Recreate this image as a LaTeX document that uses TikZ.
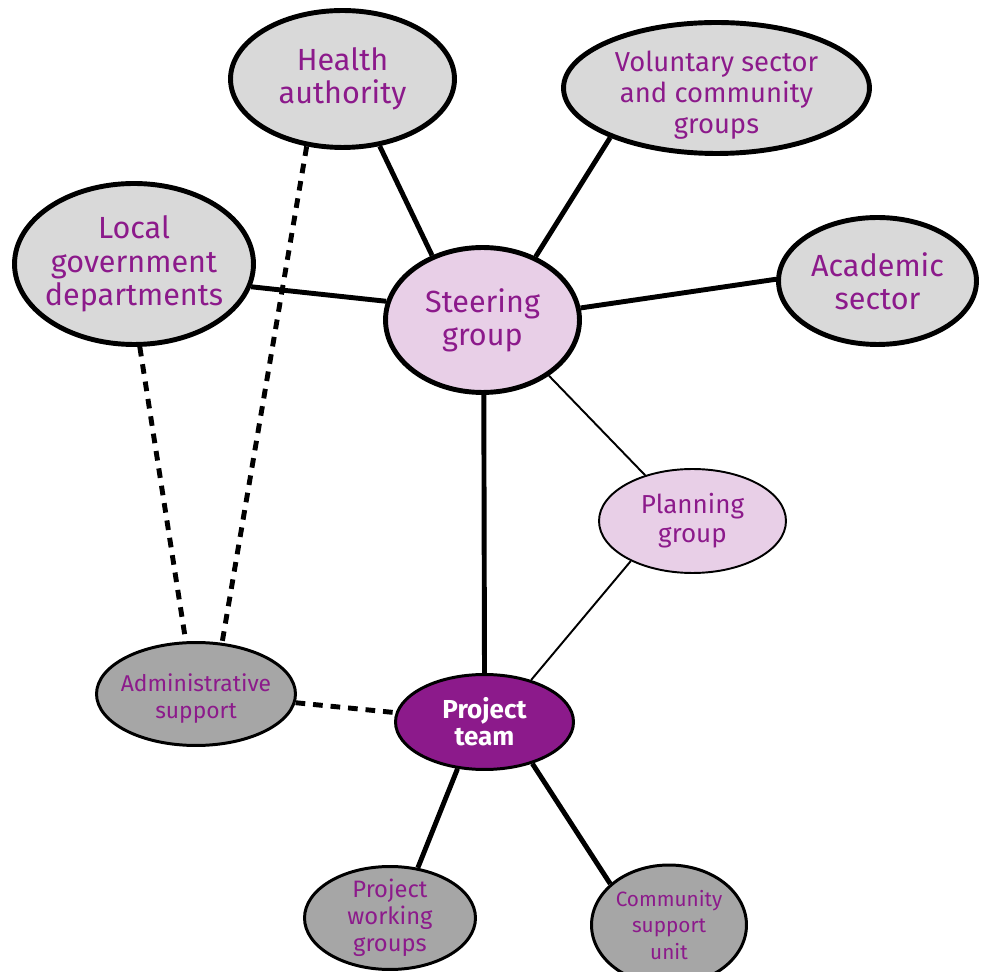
\documentclass[tikz,border=0pt]{standalone}
\usepackage{fontspec}
\setmainfont{Fira Sans}
\definecolor{plum}{HTML}{8C1A8B}
\definecolor{lightgrey}{HTML}{D9D9D9}
\definecolor{midgrey}{HTML}{A6A6A6}
\definecolor{lilac}{HTML}{E8CFE7}
\usetikzlibrary{shapes.geometric}
\begin{document}
\begin{tikzpicture}[x=0.02cm,y=-0.02cm,
  bigbox/.style={ellipse,draw=black,line width=2.8pt,fill=lightgrey,text=plum,
    inner sep=-4pt,align=center,font=\fontsize{17.4}{18.9}\selectfont},
  smallbox/.style={ellipse,draw=black,line width=1.7pt,fill=midgrey,text=plum,
    inner sep=-4pt,align=center,font=\fontsize{13}{15.3}\selectfont},
  link/.style={line width=2.8pt},
  thinlink/.style={line width=1.1pt},
  adminlink/.style={line width=2.8pt,dash pattern=on 5.5pt off 4.5pt}]
\useasboundingbox (0,0) rectangle (981,972);

% Outer bodies
\node[bigbox,minimum width=4.48cm,minimum height=2.74cm] (health) at (342.5,79) {Health\\authority};
\node[bigbox,minimum width=6.12cm,minimum height=2.62cm,
  font=\fontsize{15.6}{17.6}\selectfont] (voluntary) at (716.5,88) {\rule{0pt}{20pt}Voluntary sector\\and community\\groups};
\node[bigbox,minimum width=4.78cm,minimum height=3.22cm] (localgov) at (134,264) {Local\\government\\departments};
\node[bigbox,minimum width=3.96cm,minimum height=2.54cm] (academic) at (877.5,281) {Academic\\sector};

% Steering and planning
\node[bigbox,fill=lilac,minimum width=3.88cm,minimum height=2.90cm] (steering) at (482.5,320) {Steering\\group};
\node[bigbox,fill=lilac,line width=1.1pt,minimum width=3.74cm,minimum height=2.08cm,
  font=\fontsize{14.8}{16.4}\selectfont] (planning) at (692.5,521) {Planning\\group};

% Project level
\node[smallbox,fill=plum,text=white,minimum width=3.56cm,minimum height=1.90cm,
  font=\bfseries\fontsize{14.8}{15.5}\selectfont] (team) at (484.5,722) {Project\\team};
\node[smallbox,minimum width=3.98cm,minimum height=2.06cm] (admin) at (196,694) {\rule{0pt}{15pt}Administrative\\support};
\node[smallbox,minimum width=3.42cm,minimum height=2.06cm,
  font=\fontsize{13.5}{15.3}\selectfont] (working) at (390,918) {Project\\working\\groups};
\node[smallbox,minimum width=3.10cm,minimum height=2.40cm,
  font=\fontsize{11.8}{15}\selectfont] (community) at (669,925) {Community\\support\\unit};

% Links to the steering group
\draw[link] (steering.128) -- (health.-61);
\draw[link] (steering.50) -- (voluntary.-155);
\draw[link] (steering.169) -- (localgov.-11);
\draw[link] (steering.7) -- (academic.179);
\draw[thinlink] (steering.-40) -- (planning.136);
\draw[link] (steering.-89.5) -- (team.90);
\draw[thinlink] (planning.213) -- (team.42);

% Links from the project team
\draw[link] (team.240) -- (working.61);
\draw[link] (team.-41) -- (community.145);

% Administrative support
\draw[adminlink] (admin.-5) -- (team.174);
\draw[adminlink] (localgov.-86) -- (admin.101);
\draw[adminlink] (health.-118) -- (admin.63);
\end{tikzpicture}
\end{document}
